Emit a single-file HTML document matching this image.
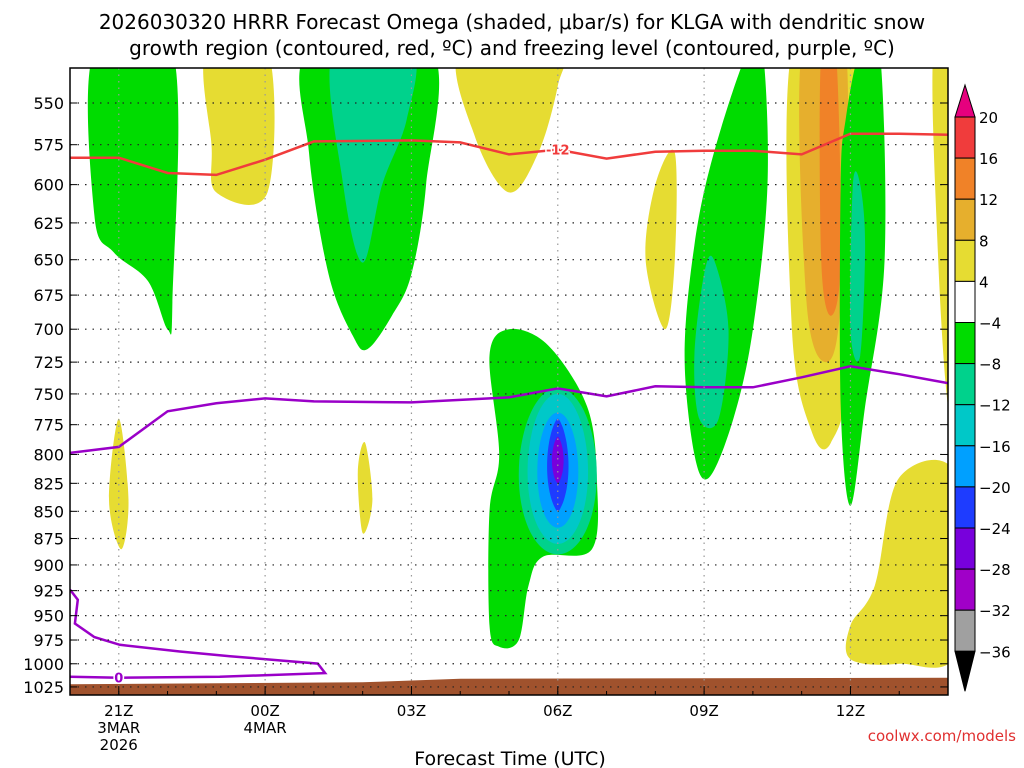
<!DOCTYPE html>
<html><head><meta charset="utf-8"><style>
html,body{margin:0;padding:0;background:#fff;}
svg{display:block;font-family:"DejaVu Sans","Liberation Sans",sans-serif;}
</style></head><body>
<svg id="c" width="1024" height="768">
<text x="512" y="29" text-anchor="middle" font-size="20">2026030320 HRRR Forecast Omega (shaded, μbar/s) for KLGA with dendritic snow</text>
<text x="512" y="55" text-anchor="middle" font-size="20">growth region (contoured, red, ºC) and freezing level (contoured, purple, ºC)</text>
<text x="510" y="765" text-anchor="middle" font-size="19">Forecast Time (UTC)</text>
<text x="1016" y="741" text-anchor="end" font-size="15" fill="#e03030">coolwx.com/models</text>
<g id="plot"></g>
</svg>
<script>
const NS="http://www.w3.org/2000/svg";
const pressureTicks=[550,575,600,625,650,675,700,725,750,775,800,825,850,875,900,925,950,975,1000,1025];
const timeTicks=[1,4,7,10,13,16];
const timeLabels=[["21Z","3MAR","2026"],["00Z","4MAR"],["03Z"],["06Z"],["09Z"],["12Z"]];
const cbLevels=[20,16,12,8,4,-4,-8,-12,-16,-20,-24,-28,-32,-36];
const cbColors=["#f03c3c","#f08228","#e6af2d","#e6dc32","#ffffff","#00dc00","#00d28c","#00c8c8","#00a0ff","#1e3cff","#7800dc","#a000c8","#a0a0a0"];
const greenLeft=[[0.5,520],[0.5,620],[0.9,645],[1.6,665],[2.0,700],[2.1,680],[2.1,520]];
const yellowA=[[2.8,520],[2.9,575],[3.0,605],[4.05,605],[4.05,520]];
const greenB=[[4.9,520],[4.9,580],[5.3,660],[5.8,705],[6.1,715],[6.6,690],[7.0,660],[7.3,600],[7.4,520]];
const tealB=[[5.4,520],[5.6,600],[6.0,652],[6.4,600],[6.9,560],[7.0,520]];
const yellowC=[[8.0,520],[8.3,570],[9.0,605],[9.6,580],[10.0,540],[10.0,520]];
const yellowD=[[12.0,600],[11.8,650],[12.2,700],[12.4,650],[12.4,580]];
const greenE=[[13.2,580],[12.8,640],[12.6,720],[12.8,800],[13.1,820],[13.6,770],[14.0,700],[14.3,600],[14.2,520],[13.9,520]];
const tealE=[[12.8,720],[13.0,660],[13.2,650],[13.5,700],[13.3,770],[12.9,770]];
const yellowF=[[14.8,520],[14.8,700],[15.2,780],[15.6,790],[16.0,720],[16.1,520]];
const goldF=[[15.0,520],[15.1,680],[15.5,725],[15.8,680],[15.9,520]];
const orangeF=[[15.4,520],[15.4,650],[15.6,690],[15.8,650],[15.7,520]];
const greenG=[[15.8,600],[15.8,760],[16.0,845],[16.3,760],[16.7,650],[16.6,520],[16.2,520],[15.9,560]];
const tealG=[[16.05,600],[16.0,700],[16.2,720],[16.3,640],[16.2,600]];
const yellowH=[[17.7,520],[17.8,650],[18.0,760],[18.2,760],[18.2,520]];
const yellowI=[[16.0,960],[16.0,995],[17.0,1000],[18.2,985],[18.2,820],[17.0,820],[16.5,920]];
const yellowJ=[[1.0,770],[0.8,840],[1.05,885],[1.2,840]];
const yellowK=[[5.9,815],[6.0,870],[6.2,840],[6.05,790]];
const greenCenter=[[9.0,700],[9.8,712],[10.6,760],[10.8,820],[10.7,885],[9.7,892],[9.4,920],[9.2,975],[8.8,982],[8.6,960],[8.6,850],[8.8,800],[8.6,720]];
const centerHour=10.0;
const nestW=[0.8,0.62,0.42,0.22,0.12];
const nestTop=[745,750,765,770,785];
const nestBot=[890,880,865,850,825];
const nestCol=["#00d28c","#00c8c8","#00a0ff","#1e3cff","#7800dc"];
const redHours=[0,1,2,3,4,5,7,8,9,10,11,12,13,14,15,16,17,18];
const redP=[583,583,592.6,593.8,584.3,573,572.4,573.6,581,578,583.6,579.3,578.7,578.7,581,568.3,568.3,568.9];
const purHours=[0,1,2,3,4,5,7,9,10,11,12,13,14,15,16,17,18];
const purP=[798.7,793.6,764,757.5,753.6,756,756.8,752.8,745.6,752,743.9,744.7,744.7,736.8,728.2,734.4,741.5];
const loopHours=[0,0.16,0.1,0.5,1.02,2.25,3.28,5.08,5.23,3.07,1.02,0];
const loopP=[924,934,958,972,980,987,992,999.8,1010,1014,1015,1014];
const groundHours=[0,6,8,18];
const groundP=[1022,1020,1016,1015];

const X0=70,X1=948,Y0=68,Y1=695;
const xs=h=>X0+h*(X1-X0)/18;
const ys=p=>103+938*Math.log(p/550);
const plot=document.getElementById('plot');
function mk(t,a,parent){const e=document.createElementNS(NS,t);for(const k in a)e.setAttribute(k,a[k]);(parent||plot).appendChild(e);return e;}
const clip=mk('clipPath',{id:'pc'});mk('rect',{x:X0,y:Y0,width:X1-X0,height:Y1-Y0},clip);
const g=mk('g',{'clip-path':'url(#pc)'});
function smooth(P){const n=P.length;let d='M'+P[0][0].toFixed(1)+','+P[0][1].toFixed(1);
 for(let i=0;i<n;i++){const p0=P[(i-1+n)%n],p1=P[i],p2=P[(i+1)%n],p3=P[(i+2)%n];
  const c1=[p1[0]+(p2[0]-p0[0])/6,p1[1]+(p2[1]-p0[1])/6],c2=[p2[0]-(p3[0]-p1[0])/6,p2[1]-(p3[1]-p1[1])/6];
  d+='C'+c1[0].toFixed(1)+','+c1[1].toFixed(1)+' '+c2[0].toFixed(1)+','+c2[1].toFixed(1)+' '+p2[0].toFixed(1)+','+p2[1].toFixed(1);}
 return d+'Z';}
function poly(pts,col,name){const P=pts.map(q=>[xs(q[0]),ys(q[1])]);
 const e=mk('path',{d:smooth(P),fill:col},g);
 
 }
const Y="#e6dc32",G="#00dc00",T="#00d28c";
poly(greenLeft,G,'omega-area-green');poly(yellowA,Y,'omega-area-yellow');
poly(greenB,G,'omega-area-green');poly(tealB,T,'omega-area-teal');
poly(yellowC,Y,'omega-area-yellow');poly(yellowD,Y,'omega-area-yellow');
poly(greenE,G,'omega-area-green');poly(tealE,T,'omega-area-teal');
poly(yellowF,Y,'omega-area-yellow');poly(goldF,"#e6af2d",'omega-area-gold');poly(orangeF,"#f08228",'omega-area-orange');
poly(greenG,G,'omega-area-green');poly(tealG,T,'omega-area-teal');
poly(yellowH,Y,'omega-area-yellow');poly(yellowI,Y,'omega-area-yellow');
poly(yellowJ,Y,'omega-area-yellow');poly(yellowK,Y,'omega-area-yellow');
poly(greenCenter,G,'omega-area-green');
for(let i=0;i<nestW.length;i++){
 const pts=[];const mid=(nestTop[i]+nestBot[i])/2,half=(nestBot[i]-nestTop[i])/2;
 for(let a=0;a<360;a+=20){const r=a*Math.PI/180;const c=Math.cos(r),s=Math.sin(r);
  const k=i>=3?Math.sign(s)*Math.pow(Math.abs(s),1.4):s;
  pts.push([centerHour+nestW[i]*k,mid-c*half]);}
 poly(pts,nestCol[i],'omega-core-level-'+i);
}
{const P=groundHours.map((h,i)=>[xs(h),ys(groundP[i])]);P.push([xs(18),ys(1040)],[xs(0),ys(1040)]);
 const e=mk('path',{d:'M'+P.map(q=>q[0].toFixed(1)+','+q[1].toFixed(1)).join('L')+'Z',fill:'#a0522d'},g);
 }
pressureTicks.forEach(p=>{const y=ys(p);
 const l=mk('line',{x1:X0,x2:X1,y1:y,y2:y,stroke:'#222','stroke-width':1.2,'stroke-dasharray':'1.5 6'});
 
 mk('line',{x1:X0,x2:X0+7,y1:y,y2:y,stroke:'#000'});mk('line',{x1:X1-7,x2:X1,y1:y,y2:y,stroke:'#000'});
 const t=mk('text',{x:X0-6,y:y+6,'text-anchor':'end','font-size':16});t.textContent=p;
 });
timeTicks.forEach((h,i)=>{const x=xs(h);
 const l=mk('line',{x1:x,x2:x,y1:Y0,y2:Y1,stroke:'#999','stroke-width':1.2,'stroke-dasharray':'1.5 5'});
 
 mk('line',{x1:x,x2:x,y1:Y1,y2:Y1-9,stroke:'#000'});
 timeLabels[i].forEach((s,j)=>{const t=mk('text',{x:x,y:716+j*17,'text-anchor':'middle','font-size':15});t.textContent=s;
  });});
for(let h=0;h<=18;h++){mk('line',{x1:xs(h),x2:xs(h),y1:Y1,y2:Y1-4,stroke:'#000'});}
function line(hs,ps,col,name){const d='M'+hs.map((h,i)=>xs(h).toFixed(1)+','+ys(ps[i]).toFixed(1)).join('L');
 const e=mk('path',{d:d,fill:'none',stroke:col,'stroke-width':2.5},g);
 }
line(redHours,redP,'#f03c3c','dgz-minus12-line');
line(purHours,purP,'#9a00c8','freezing-level-line');
line(loopHours,loopP,'#9a00c8','freezing-level-surface-line');
{const t=mk('text',{x:xs(10),y:ys(578)+5,'text-anchor':'middle','font-size':13,fill:'#f03c3c','font-weight':'bold',stroke:'#fff','stroke-width':3,'paint-order':'stroke'});t.textContent='-12';
 }
{const t=mk('text',{x:xs(1),y:ys(1015)+5,'text-anchor':'middle','font-size':13,fill:'#9a00c8','font-weight':'bold',stroke:'#fff','stroke-width':3,'paint-order':'stroke'});t.textContent='0';
 }
{const r=mk('rect',{x:X0,y:Y0,width:X1-X0,height:Y1-Y0,fill:'none',stroke:'#000','stroke-width':1.5});
 }
const cbX=955,cbW=20,cbTop=117,cbStep=41.1;
cbColors.forEach((c,i)=>{const r=mk('rect',{x:cbX,y:cbTop+i*cbStep,width:cbW,height:cbStep,fill:c,stroke:'#000','stroke-width':1});
 });
{const a=mk('path',{d:`M${cbX},${cbTop}L${cbX+cbW/2},${cbTop-32}L${cbX+cbW},${cbTop}Z`,fill:'#e6007e',stroke:'#000'});
 
 const yb=cbTop+13*cbStep;
 const b=mk('path',{d:`M${cbX},${yb}L${cbX+cbW/2},${yb+40}L${cbX+cbW},${yb}Z`,fill:'#000',stroke:'#000'});
 }
cbLevels.forEach((v,i)=>{const t=mk('text',{x:979,y:cbTop+i*cbStep+6,'font-size':15});t.textContent=v<0?'\u2212'+(-v):String(v);
 });
</script>
</body></html>
